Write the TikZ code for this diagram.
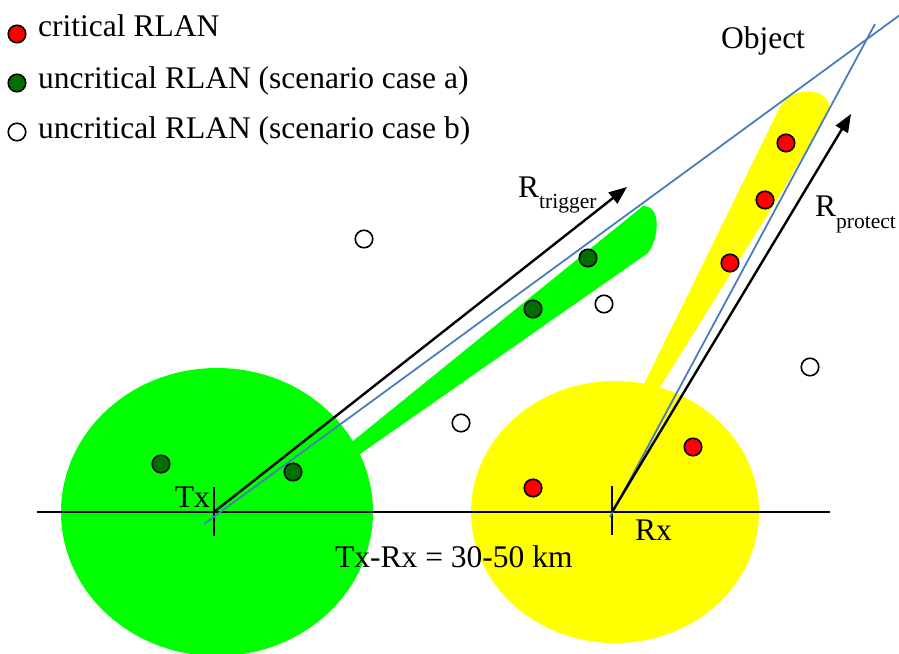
\documentclass[tikz,border=0pt]{standalone}
\usepackage{fontspec}
\setmainfont{Liberation Serif}
\usetikzlibrary{arrows.meta,positioning}
\definecolor{rlanred}{HTML}{FF0000}
\definecolor{rlangreen}{HTML}{007000}
\definecolor{zonegreen}{HTML}{00FF00}
\definecolor{zoneyellow}{HTML}{FFFF00}
\definecolor{losblue}{HTML}{4A7EBB}
\newcommand{\subfont}{\fontsize{21.5}{24}\selectfont}
\tikzset{
  rlan/.style={circle,draw,line width=1.6pt,minimum size=17.5pt,inner sep=0pt},
  crit/.style={rlan,fill=rlanred},
  uncrita/.style={rlan,fill=rlangreen},
  uncritb/.style={rlan,fill=white},
  lbl/.style={inner sep=0pt,font=\fontsize{31.5}{36}\selectfont},
  los/.style={losblue,line width=1.8pt},
  rangearrow/.style={line width=2.4pt,-{Triangle[length=18pt,width=14pt]}},
  baseaxis/.style={line width=2pt},
}

\begin{document}
\begin{tikzpicture}[x=1pt,y=-1pt]
  \useasboundingbox (0,0) rectangle (899,653);
  % coverage areas of Tx and Rx
  \fill[zonegreen] (217,512) ellipse [x radius=156, y radius=144];
  \fill[zonegreen] (300,490) -- (353,441) -- (643,206) .. controls (662,206) and (659,238) .. (648,253) -- (360,454) -- (310,500) -- cycle;
  \fill[zoneyellow] (615,512) ellipse [x radius=144, y radius=131];
  \fill[zoneyellow] (635,420) -- (644,384) -- (780,107) .. controls (790,86) and (832,86) .. (829,110) -- (783,190) -- (660,387) -- (670,420) -- cycle;
  % baseline Tx -- Rx
  \coordinate (tx) at (214,512);
  \coordinate (rx) at (612,512);
  \coordinate (axl) at (37,512);
  \coordinate (axr) at (830,512);
  \draw[baseaxis] (axl) -- (axr);
  \coordinate (txt) at (214,487);
  \coordinate (txb) at (214,536);
  \coordinate (rxt) at (612,486);
  \coordinate (rxb) at (612,535);
  \draw[baseaxis] (txt) -- (txb);
  \draw[baseaxis] (rxt) -- (rxb);
  % lines of sight to the object
  \coordinate (los1a) at (204,524);
  \coordinate (los1b) at (904,12);
  \coordinate (los2a) at (610,517);
  \coordinate (los2b) at (875,24);
  \draw[los] (los1a) -- (los1b);
  \draw[los] (los2a) -- (los2b);
  % ranges
  \coordinate (trig) at (627,187);
  \coordinate (prot) at (851,114);
  \draw[rangearrow] (tx) -- (trig);
  \draw[rangearrow] (rx) -- (prot);
  % RLANs
  \node[crit] (c1) at (786,143) {};
  \node[crit] (c2) at (765,200) {};
  \node[crit] (c3) at (730,263) {};
  \node[crit] (c4) at (693,447) {};
  \node[crit] (c5) at (533,488) {};
  \node[uncrita] (a1) at (588,258) {};
  \node[uncrita] (a2) at (533,309) {};
  \node[uncrita] (a3) at (293,472) {};
  \node[uncrita] (a4) at (161,464) {};
  \node[uncritb] (b1) at (364,239) {};
  \node[uncritb] (b2) at (604,304) {};
  \node[uncritb] (b3) at (461,423) {};
  \node[uncritb] (b4) at (810,367) {};
  % labels
  \node[lbl,anchor=base] (obj) at (763,48) {Object};
  \node[lbl,anchor=base west] (rtrig) at (518,197) {R\raisebox{-11pt}{\subfont trigger}};
  \node[lbl,anchor=base west] (rprot) at (815,216) {R\raisebox{-12pt}{\subfont protect}};
  \node[lbl,anchor=base east] (txl) at (210,507) {Tx};
  \node[lbl,anchor=base west] (rxl) at (635,540) {Rx};
  \node[lbl,anchor=base west] (dist) at (335,567) {Tx-Rx = 30-50 km};
  % legend
  \node[crit] (kcrit) at (17,34) {};
  \node[uncrita] (kuna) at (17,83) {};
  \node[uncritb] (kunb) at (17,132) {};
  \node[lbl,anchor=base west] (tcrit) at (38,36) {critical RLAN};
  \node[lbl,anchor=base west] (tuna) at (38,88) {uncritical RLAN (scenario case a)};
  \node[lbl,anchor=base west] (tunb) at (38,138) {uncritical RLAN (scenario case b)};
\end{tikzpicture}
\end{document}
